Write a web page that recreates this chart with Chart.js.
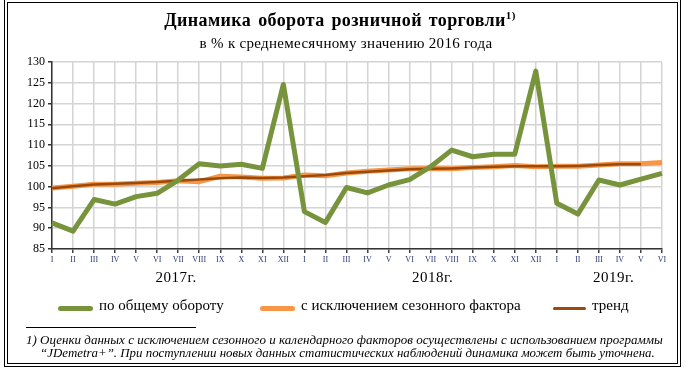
<!DOCTYPE html>
<html><head><meta charset="utf-8">
<script src="https://cdn.jsdelivr.net/npm/chart.js@4"></script>
<style>
html,body{margin:0;padding:0;background:#fff;}
#wrap{position:relative;width:686px;height:375px;overflow:hidden;font-family:"Liberation Serif","Times New Roman",serif;color:#000;}
canvas{position:absolute;left:0;top:0;}
.abs{position:absolute;white-space:nowrap;}
.frame1{position:absolute;left:4px;top:-1px;width:677px;height:368px;border:1px solid #000;box-sizing:border-box;}
.frame2{position:absolute;left:7px;top:2px;width:671px;height:362px;border:1px solid #000;box-sizing:border-box;}
.leg{position:absolute;top:299px;height:14px;font-size:15px;}
.sw{position:absolute;top:7px;height:5px;border-radius:3px;}
</style></head>
<body><div id="wrap">
<canvas id="c" width="686" height="375"></canvas>
<div class="frame1"></div><div class="frame2"></div>
<div class="abs" style="left:0;width:680px;text-align:center;top:9px;font-size:18px;font-weight:bold;letter-spacing:0.4px;word-spacing:2px;">Динамика оборота розничной торговли<sup style="font-size:11px;">1)</sup></div>
<div class="abs" style="left:0;width:692px;text-align:center;top:35px;font-size:15px;letter-spacing:0.3px;">в % к среднемесячному значению 2016 года</div>
<div id="years"></div>
<div id="legend"></div>
<div class="abs" style="left:26px;top:327px;width:170px;border-top:1px solid #000;"></div>
<div class="abs" style="left:26px;top:332px;font-size:13px;font-style:italic;">1) Оценки данных с исключением сезонного и календарного факторов осуществлены с использованием программы</div>
<div class="abs" style="left:40px;top:346px;font-size:12.9px;font-style:italic;">“JDemetra+”. При поступлении новых данных статистических наблюдений динамика может быть уточнена.</div>
</div>
<script>
const months = ['I','II','III','IV','V','VI','VII','VIII','IX','X','XI','XII',
  'I','II','III','IV','V','VI','VII','VIII','IX','X','XI','XII',
  'I','II','III','IV','V','VI'];
const years = ['2017г.','2018г.','2019г.'];
const yearCenters = [5.9, 18.1, 26.7];
const seriesNames = ['по общему обороту','с исключением сезонного фактора','тренд'];
const total = [91.3,89.3,96.9,95.8,97.6,98.4,101.6,105.5,105.0,105.4,104.4,124.6,
  94.0,91.4,99.8,98.5,100.4,101.7,104.8,108.8,107.2,107.8,107.8,127.8,
  96.0,93.4,101.6,100.4,101.8,103.2];
const seasonal = [99.7,100.1,100.6,100.6,100.8,101.0,101.4,101.2,102.5,102.3,102.0,102.1,
  102.8,102.6,103.3,103.7,104.0,104.3,104.4,104.3,104.6,104.8,105.1,104.8,
  104.9,104.9,105.2,105.5,105.5,105.8];
const trend = [99.6,100.1,100.5,100.7,100.9,101.1,101.4,101.7,102.0,102.2,102.1,102.2,
  102.5,102.8,103.3,103.6,103.9,104.2,104.3,104.4,104.6,104.8,104.9,104.9,
  104.9,105.0,105.2,105.4,105.4,null];
const colors = ['#77933C','#F79646','#9A4A0C'];

const chart = new Chart(document.getElementById('c'), {
  type:'line',
  data:{labels:months, datasets:[
    {label:seriesNames[0],data:total,borderColor:colors[0],borderWidth:5,pointRadius:0,tension:0,order:0,borderJoinStyle:'round'},
    {label:seriesNames[1],data:seasonal,borderColor:colors[1],borderWidth:5,pointRadius:0,tension:0,order:2,borderJoinStyle:'round'},
    {label:seriesNames[2],data:trend,borderColor:colors[2],borderWidth:2.5,pointRadius:0,tension:0,order:1,borderJoinStyle:'round'}
  ]},
  options:{
    responsive:false,animation:false,
    layout:{padding:{left:0,top:62,right:24,bottom:106}},
    plugins:{legend:{display:false},tooltip:{enabled:false}},
    scales:{
      x:{offset:false,
        grid:{color:'#d4d4d4',lineWidth:1.5,tickLength:4,tickColor:'#404040',drawTicks:true},
        border:{color:'#333',width:1.5},
        ticks:{autoSkip:false,maxRotation:0,font:{family:'Liberation Serif',size:8},color:'#2b3670',padding:2},
        afterFit:s=>{s.height=20;}
      },
      y:{min:85,max:130,
        grid:{color:'#d4d4d4',lineWidth:1.5,tickLength:4,tickColor:'#333'},
        border:{color:'#333',width:1.5},
        ticks:{stepSize:5,font:{family:'Liberation Serif',size:12},color:'#000',padding:3},
        afterFit:s=>{s.width=52;}
      }
    }
  }
});

const xs = chart.scales.x;
const yd = document.getElementById('years');
years.forEach((t,i)=>{
  const d=document.createElement('div');d.className='abs';
  d.style.cssText='top:269px;font-size:15px;letter-spacing:0.5px;transform:translateX(-50%);left:'+xs.getPixelForValue(yearCenters[i])+'px';
  d.textContent=t;yd.appendChild(d);
});
const legPos=[[58,35],[260,35],[553,33]];
const ld=document.getElementById('legend');
seriesNames.forEach((n,i)=>{
  const sw=document.createElement('div');sw.className='leg';
  sw.style.left=legPos[i][0]+'px';
  sw.innerHTML='<div class="sw" style="left:0;width:'+legPos[i][1]+'px;background:'+colors[i]+';height:'+(i==2?3:5)+'px;'+(i==2?'top:8px;':'')+'"></div><span style="position:absolute;left:'+(legPos[i][1]+6)+'px;top:-2px;white-space:nowrap;">'+n+'</span>';
  ld.appendChild(sw);
});
</script>
</body></html>
